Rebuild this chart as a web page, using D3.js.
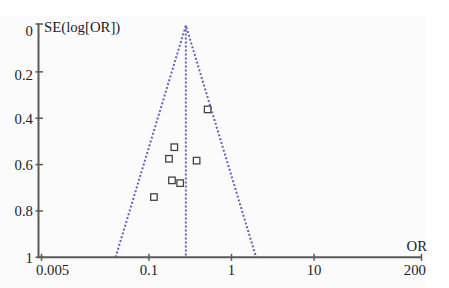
<!DOCTYPE html>
<html><head><meta charset="utf-8">
<script src="https://cdn.jsdelivr.net/npm/d3@7"></script>
<style>body{margin:0;background:#fff}svg{display:block}</style>
</head><body>
<script>
// Data
const orValues = [0.514, 0.203, 0.175, 0.378, 0.190, 0.239, 0.115];
const seValues = [0.362, 0.525, 0.575, 0.583, 0.668, 0.680, 0.740];
const pooledOR = [0.28];
const xTickValues = [0.005, 0.1, 1, 10, 200];
const xTickLabels = ["0.005", "0.1", "1", "10", "200"];
const yTickValues = [0, 0.2, 0.4, 0.6, 0.8, 1];
const yTickLabels = ["0", "0.2", "0.4", "0.6", "0.8", "1"];

const W = 449, H = 288;
const svg = d3.select("body").append("svg").attr("width", W).attr("height", H);

svg.append("rect").attr("x", 0).attr("y", 16).attr("width", 426).attr("height", 272).attr("fill", "#fbfbfb");

const x = d3.scaleLog().domain([0.005, 200]).range([41.5, 421.5]);
const y = d3.scaleLinear().domain([0, 1]).range([25.5, 257.3]);

const font = "'Liberation Serif', 'DejaVu Serif', serif";
const axisColor = "#5a5a5a";
const textColor = "#1c1c2a";
const funnelColor = "#6464bc";
const fs = 13.8;

function label(g, tx, ty, str, anchor) {
  g.append("text")
    .attr("transform", `translate(${tx},${ty}) scale(1.07,1)`)
    .attr("text-anchor", anchor)
    .attr("font-family", font).attr("font-size", fs).attr("fill", textColor)
    .text(str);
}

// funnel
const p = pooledOR[0];
const z = 1.96;
const funnel = [[p * Math.exp(-z * 1), 1], [p, 0], [p * Math.exp(z * 1), 1]];
svg.append("path")
  .attr("d", d3.line().x(d => x(d[0])).y(d => y(d[1]))(funnel))
  .attr("fill", "none").attr("stroke", funnelColor).attr("stroke-width", 2)
  .attr("stroke-dasharray", "2,2");
svg.append("line")
  .attr("x1", x(p)).attr("x2", x(p)).attr("y1", y(0)).attr("y2", y(1))
  .attr("stroke", funnelColor).attr("stroke-width", 2).attr("stroke-dasharray", "2,2");

// axes
const yAxis = svg.append("g");
yAxis.append("line").attr("x1", 38.5).attr("x2", 38.5).attr("y1", 23.5).attr("y2", y(1))
  .attr("stroke", axisColor).attr("stroke-width", 2);
yTickValues.forEach((v, i) => {
  const ty = v === 0 ? 24 : y(v);
  yAxis.append("line").attr("x1", 35.5).attr("x2", 43).attr("y1", ty).attr("y2", ty)
    .attr("stroke", axisColor).attr("stroke-width", 1.5);
  const ly = v === 0 ? 35.5 : (v === 0.2 ? y(v) + 8 : y(v) + 5.5);
  label(yAxis, 33, ly, yTickLabels[i], "end");
});

const xAxis = svg.append("g");
xAxis.append("line").attr("x1", 37.5).attr("x2", 422).attr("y1", y(1)).attr("y2", y(1))
  .attr("stroke", axisColor).attr("stroke-width", 2);
xTickValues.forEach((v, i) => {
  xAxis.append("line").attr("x1", x(v)).attr("x2", x(v)).attr("y1", y(1) - 3.5).attr("y2", y(1) + 3.5)
    .attr("stroke", axisColor).attr("stroke-width", 1.5);
  const last = i === xTickValues.length - 1;
  if (i === 0) label(xAxis, 36, 274.5, xTickLabels[i], "start");
  else if (last) label(xAxis, 426, 274.5, xTickLabels[i], "end");
  else label(xAxis, x(v), 274.5, xTickLabels[i], "middle");
});

label(svg, 44, 31.5, "SE(log[OR])", "start");
label(svg, 427, 251, "OR", "end");

// points
const s = 6.5;
svg.append("g").selectAll("rect").data(orValues.map((o, i) => [o, seValues[i]])).join("rect")
  .attr("x", d => x(d[0]) - s / 2).attr("y", d => y(d[1]) - s / 2)
  .attr("width", s).attr("height", s)
  .attr("fill", "#fff").attr("stroke", "#444").attr("stroke-width", 1.3);
</script>
</body></html>
